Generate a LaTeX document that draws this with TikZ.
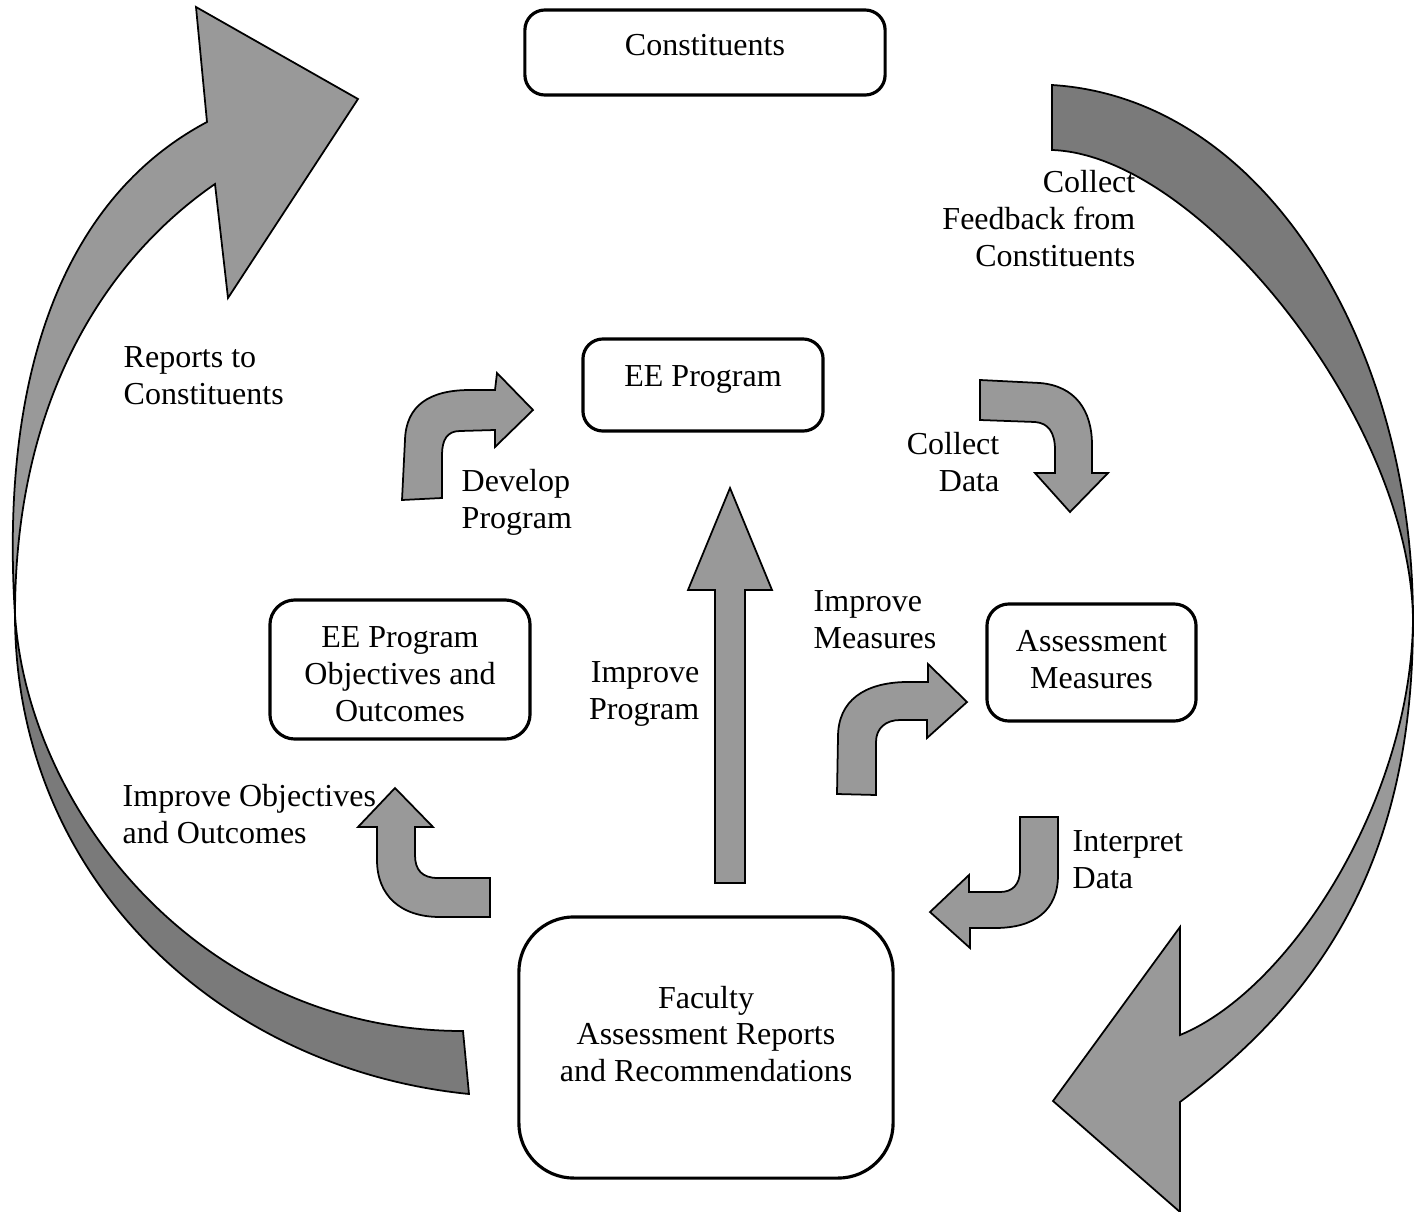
\documentclass[tikz,border=0pt]{standalone}
\usepackage{fontspec}
\setmainfont{Liberation Serif}
\definecolor{bandlight}{HTML}{999999}
\definecolor{banddark}{HTML}{7A7A7A}

\begin{document}
\begin{tikzpicture}[x=0.01cm,y=-0.01cm,font=\fontsize{9.1}{10.5}\selectfont]

\tikzset{box/.style = {draw,line width=0.9pt,rounded corners=0.22cm}}
\tikzset{txt/.style = {inner sep=0pt}}
\tikzset{flow/.style = {draw,line width=0.5pt,fill=bandlight}}
\tikzset{backflow/.style = {draw,line width=0.5pt,fill=banddark}}

\useasboundingbox (0,0) rectangle (1421,1212);

% big loop, left side
\draw[backflow] (463,1031) -- (469,1094) .. controls (219,1069) and (15,878) .. (15,615)
  .. controls (28,810) and (200,1031) .. (463,1031) -- cycle;
\draw[flow] (15,615) .. controls (0,380) and (60,200) .. (207,122)
  -- (196,7) -- (358,99) -- (228,298) -- (215,184)
  .. controls (105,260) and (15,400) .. (15,615) -- cycle;

% big loop, right side
\draw[backflow] (1052,85) .. controls (1265,98) and (1413,345) .. (1413,620)
  .. controls (1411,420) and (1200,155) .. (1052,150) -- cycle;
\draw[flow] (1413,620) .. controls (1413,850) and (1330,990) .. (1180,1102)
  -- (1180,1212) -- (1053,1101) -- (1180,927) -- (1180,1035)
  .. controls (1290,990) and (1411,800) .. (1413,620) -- cycle;

% small arrows
\draw[flow] (402,500) -- (405,440) .. controls (406,405) and (430,390) .. (470,390) -- (495,390)
  -- (497,373) -- (533,410) -- (495,447) -- (495,430) -- (460,431)
  .. controls (447,431) and (442,440) .. (442,455) -- (442,498) -- cycle;
\draw[flow] (837,794) -- (838,737) .. controls (838,700) and (865,683) .. (905,682) -- (928,682)
  -- (928,664) -- (967,702) -- (927,738) -- (927,720) -- (900,720)
  .. controls (886,720) and (876,728) .. (876,742) -- (876,795) -- cycle;
\draw[flow] (980,380) -- (1040,383) .. controls (1075,386) and (1092,410) .. (1092,445) -- (1092,473)
  -- (1108,473) -- (1070,512) -- (1035,473) -- (1055,473) -- (1055,450)
  .. controls (1055,432) and (1048,423) .. (1035,422) -- (980,420) -- cycle;
\draw[flow] (1020,817) -- (1058,817) -- (1058,875) .. controls (1058,910) and (1035,928) .. (995,928)
  -- (970,928) -- (970,948) -- (930,912) -- (969,875) -- (969,892) -- (1000,892)
  .. controls (1012,892) and (1020,885) .. (1020,870) -- cycle;
\draw[flow] (490,878) -- (490,917) -- (440,917) .. controls (400,917) and (377,895) .. (377,860)
  -- (377,827) -- (358,827) -- (395,788) -- (433,827) -- (415,827) -- (415,855)
  .. controls (415,870) and (422,878) .. (438,878) -- cycle;
\draw[flow] (715,883) -- (715,590) -- (688,590) -- (730,488) -- (772,590) -- (745,590) -- (745,883) -- cycle;

% boxes
\node[box,minimum width=3.6cm,minimum height=0.85cm,rounded corners=0.2cm,
  label={[yshift=0.075cm]center:Constituents}] (cons) at (705,52.5) {};
\node[box,minimum width=2.4cm,minimum height=0.92cm,rounded corners=0.2cm,
  label={[yshift=0.06cm]center:EE Program}] (eeprog) at (703,385) {};
\node[box,minimum width=2.6cm,minimum height=1.39cm,rounded corners=0.25cm,
  label={[yshift=-0.045cm,align=center]center:{EE Program\\Objectives and\\Outcomes}}] (objout) at (400,669.5) {};
\node[box,minimum width=2.09cm,minimum height=1.17cm,
  label={[yshift=0.03cm,align=center]center:{Assessment\\Measures}}] (assess) at (1091.5,662.5) {};
\node[box,minimum width=3.74cm,minimum height=2.61cm,rounded corners=0.55cm,
  label={[yshift=0.135cm,align=center]center:{Faculty\\Assessment Reports\\and Recommendations}}] (faculty) at (706,1047.5) {};

% texts
\node[txt,anchor=west,align=left] (reports) at (123,376) {Reports to\\Constituents};
\node[txt,anchor=east,align=right] (feedback) at (1136,218.5) {Collect\\Feedback from\\Constituents};
\node[txt,anchor=west,align=left] (develop) at (461,502.5) {Develop\\Program};
\node[txt,anchor=east,align=right] (colldata) at (1000,462.5) {Collect\\Data};
\node[txt,anchor=west,align=left] (impmeas) at (813,619.5) {Improve\\Measures};
\node[txt,anchor=east,align=right] (improg) at (700,694) {Improve\\Program};
\node[txt,anchor=west,align=left] (impobj) at (122,814.5) {Improve Objectives\\and Outcomes};
\node[txt,anchor=west,align=left] (interp) at (1072,859.5) {Interpret\\Data};
\end{tikzpicture}
\end{document}
